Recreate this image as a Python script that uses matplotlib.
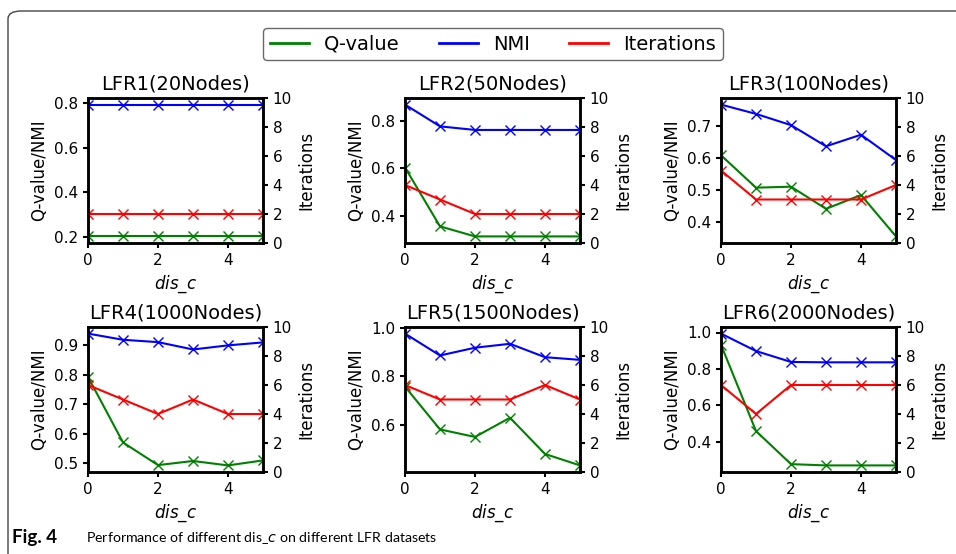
import matplotlib
matplotlib.use('Agg')
import matplotlib.pyplot as plt
from matplotlib.patches import FancyBboxPatch
from matplotlib.lines import Line2D
from matplotlib.ticker import MultipleLocator

plt.rcParams['font.family'] = ['DejaVu Sans']

dis_c = [0, 1, 2, 3, 4, 5]
titles = ['LFR1(20Nodes)', 'LFR2(50Nodes)', 'LFR3(100Nodes)',
          'LFR4(1000Nodes)', 'LFR5(1500Nodes)', 'LFR6(2000Nodes)']

q_value = [
    [0.203, 0.203, 0.203, 0.203, 0.203, 0.203],
    [0.604, 0.358, 0.316, 0.316, 0.316, 0.316],
    [0.608, 0.507, 0.510, 0.441, 0.484, 0.355],
    [0.793, 0.570, 0.493, 0.507, 0.492, 0.509],
    [0.758, 0.582, 0.551, 0.630, 0.481, 0.434],
    [0.933, 0.458, 0.276, 0.269, 0.269, 0.269],
]
nmi = [
    [0.793, 0.793, 0.793, 0.793, 0.793, 0.793],
    [0.867, 0.776, 0.761, 0.761, 0.761, 0.761],
    [0.766, 0.737, 0.702, 0.636, 0.672, 0.593],
    [0.940, 0.919, 0.911, 0.886, 0.900, 0.910],
    [0.976, 0.886, 0.918, 0.934, 0.879, 0.868],
    [0.994, 0.898, 0.838, 0.836, 0.836, 0.836],
]
iterations = [
    [2, 2, 2, 2, 2, 2],
    [4, 3, 2, 2, 2, 2],
    [5, 3, 3, 3, 3, 4],
    [6, 5, 4, 5, 4, 4],
    [6, 5, 5, 5, 6, 5],
    [6, 4, 6, 6, 6, 6],
]
left_step = [0.2, 0.2, 0.1, 0.1, 0.2, 0.2]

W, H = 956, 554
fig = plt.figure(figsize=(W / 100, H / 100), dpi=100)

# journal style frame (cut at right/bottom)
frame = FancyBboxPatch((8 / W, -0.1), 1.2, 1 - 11 / H + 0.1,
                       boxstyle='round,pad=0,rounding_size=0.014',
                       transform=fig.transFigure, fill=False,
                       edgecolor='#444444', linewidth=1.0, clip_on=False)
fig.patches.append(frame)

lefts = [88, 405, 721]
tops = [98, 327]
aw, ah = 175, 145

for i in range(6):
    r, c = divmod(i, 3)
    ax = fig.add_axes([lefts[c] / W, 1 - (tops[r] + ah) / H, aw / W, ah / H])
    ax.plot(dis_c, q_value[i], color='green', marker='x', lw=1.5, ms=7)
    ax.plot(dis_c, nmi[i], color='blue', marker='x', lw=1.5, ms=7)
    ax.set_xlim(0, 5)
    ax.set_xticks([0, 2, 4])
    ax.yaxis.set_major_locator(MultipleLocator(left_step[i]))
    ax.set_title(titles[i], fontsize=14)
    ax.set_ylabel('Q-value/NMI', fontsize=12)
    ax.set_xlabel(r'$dis\_c$', fontsize=12)
    ax.tick_params(labelsize=11, width=1.5)
    ax2 = ax.twinx()
    ax2.plot(dis_c, iterations[i], color='red', marker='x', lw=1.5, ms=7)
    ax2.set_ylim(0, 10)
    ax2.set_yticks([0, 2, 4, 6, 8, 10])
    ax2.set_ylabel('Iterations', fontsize=12)
    ax2.tick_params(labelsize=11, width=1.5)
    for a in (ax, ax2):
        for s in a.spines.values():
            s.set_linewidth(1.8)

handles = [Line2D([], [], color='green', lw=2),
           Line2D([], [], color='blue', lw=2),
           Line2D([], [], color='red', lw=2)]
leg = fig.legend(handles, ['Q-value', 'NMI', 'Iterations'], ncol=3,
                 loc='center', bbox_to_anchor=(493 / W, 1 - 44 / H),
                 fontsize=14, frameon=True, fancybox=True,
                 columnspacing=2.0, handletextpad=0.8,
                 borderpad=0.35)
leg.get_frame().set_edgecolor('#444444')
leg.get_frame().set_linewidth(1.0)

fig.text(12 / W, 1 - 538 / H, 'Fig. 4', fontsize=13.5, fontweight='bold',
         family=['Lato', 'DejaVu Sans'], va='center', ha='left')
fig.text(86 / W, 1 - 538 / H,
         'Performance of different dis_$\\mathit{c}$ on different LFR datasets',
         fontsize=10.2, family=['Lato', 'DejaVu Sans'],
         va='center', ha='left')

fig.savefig('out.png', dpi=100)
